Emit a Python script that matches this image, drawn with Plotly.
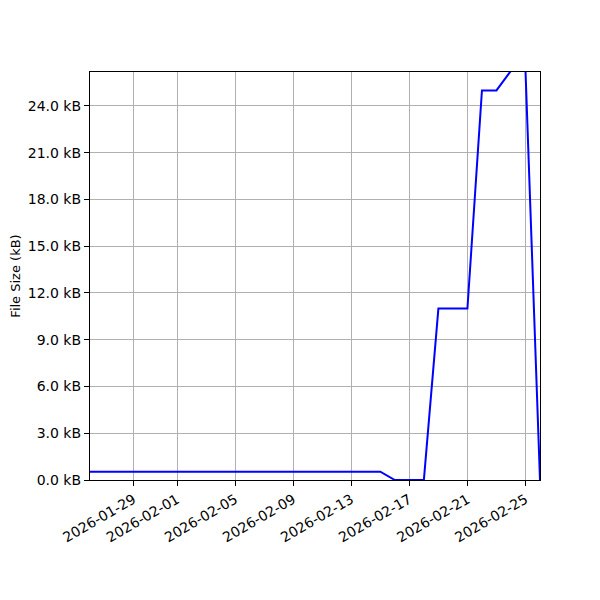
import plotly.graph_objects as go
import pandas as pd

dates = pd.date_range("2026-01-26", "2026-02-26", freq="D").strftime("%Y-%m-%d").tolist()
size_kb = [0.53] * 21 + [0, 0, 0, 11.0, 11.0, 11.0, 25.0, 25.0, 26.26, 26.3, 0]

x_tick_dates = ["2026-01-29", "2026-02-01", "2026-02-05", "2026-02-09",
                "2026-02-13", "2026-02-17", "2026-02-21", "2026-02-25"]
y_tick_vals = [0, 3, 6, 9, 12, 15, 18, 21, 24]
y_tick_text = [f"{v:.1f} kB" for v in y_tick_vals]

fig = go.Figure()
fig.add_trace(go.Scatter(x=dates, y=size_kb, mode="lines",
                         line=dict(color="#0000ff", width=2), showlegend=False))

axis_common = dict(showline=True, linecolor="black", linewidth=1.2, mirror=True,
                   ticks="outside", ticklen=5, tickwidth=1, tickcolor="black",
                   showgrid=True, gridcolor="#b0b0b0", gridwidth=1, zeroline=False,
                   tickfont=dict(family="DejaVu Sans", size=14, color="black"))

fig.update_xaxes(range=["2026-01-26", "2026-02-26"], tickvals=x_tick_dates,
                 ticktext=x_tick_dates, tickangle=-30, **axis_common)
fig.update_yaxes(range=[0, 26.18], tickvals=y_tick_vals, ticktext=y_tick_text,
                 title=dict(text="File Size (kB)", font=dict(family="DejaVu Sans", size=13, color="black"),
                            standoff=6),
                 **axis_common)

fig.update_layout(width=600, height=600, plot_bgcolor="white", paper_bgcolor="white",
                  margin=dict(l=82, r=68, t=64, b=128, autoexpand=False),
                  font=dict(family="DejaVu Sans", size=14, color="black"))

fig.write_html("out.html")
